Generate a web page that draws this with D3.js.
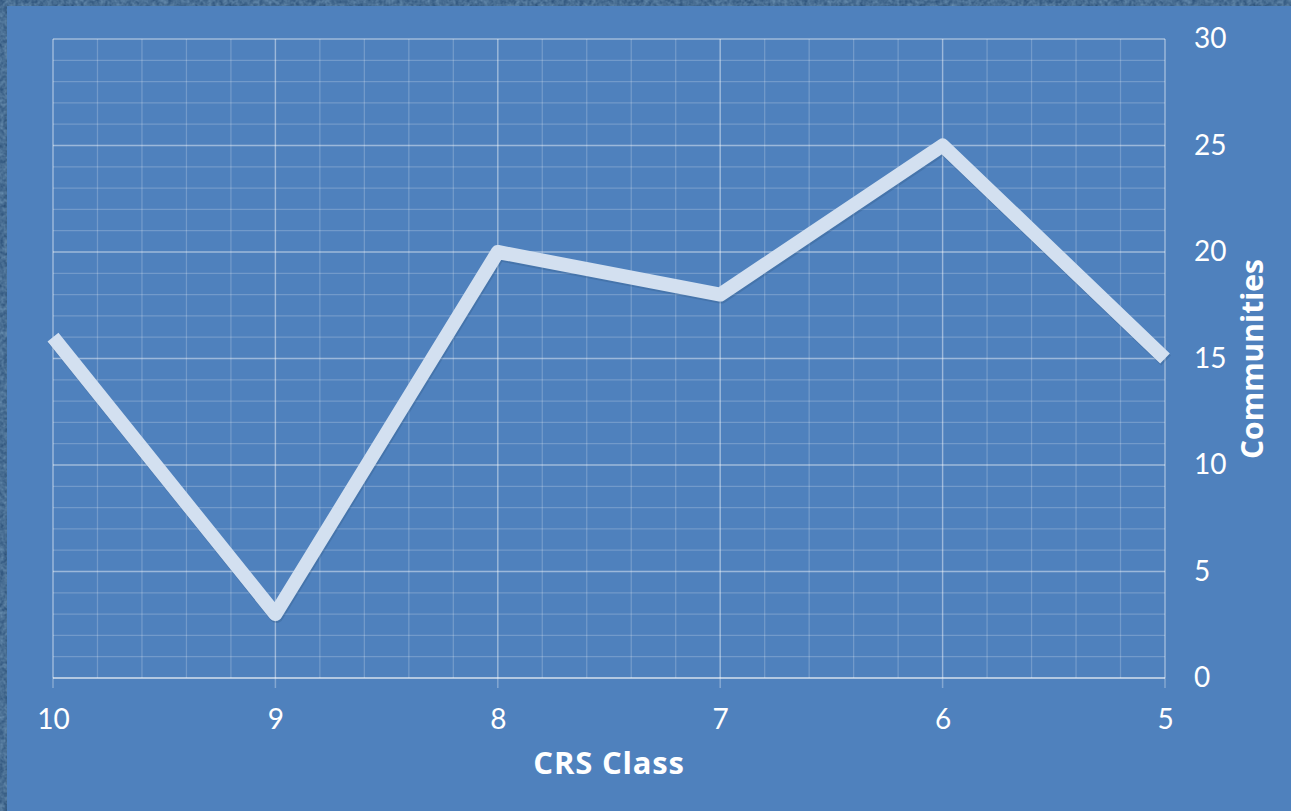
<!DOCTYPE html>
<html><head><meta charset="utf-8">
<script src="https://cdn.jsdelivr.net/npm/d3@7"></script>
<style>
html,body{margin:0;padding:0;background:#2f5680;}
svg{display:block;}
</style></head>
<body>
<svg id="c" width="1291" height="811"></svg>
<script>
const categories = ["10","9","8","7","6","5"];
const values = [16, 3, 20, 18, 25, 15];
const yTicks = [0,5,10,15,20,25,30];

const W = 1291, H = 811;
const svg = d3.select("#c");
const m = {left:53, right:1165, top:39, bottom:678};

// textured border
const defs = svg.append("defs");
const f = defs.append("filter").attr("id","tex");
f.append("feTurbulence").attr("type","fractalNoise").attr("baseFrequency","0.25").attr("numOctaves",3).attr("seed",4);
f.append("feColorMatrix").attr("values","0 0 0 0 0.18  0 0 0 0 0.33  0 0 0 0 0.5  0 0 0 1.2 -0.1");
svg.append("rect").attr("width",W).attr("height",H).attr("fill","#2b5078");
svg.append("rect").attr("width",W).attr("height",H).attr("filter","url(#tex)").attr("opacity",0.8);
svg.append("rect").attr("x",7).attr("y",6).attr("width",W-7).attr("height",H-6).attr("fill","#4f81bd");

const x = d3.scalePoint().domain(categories).range([m.left, m.right]);
const y = d3.scaleLinear().domain([0,30]).range([m.bottom, m.top]);

const g = svg.append("g");
// minor grid
const step = (m.right - m.left) / (categories.length - 1) / 5;
const minorX = d3.range(0, (categories.length-1)*5 + 1).map(i => m.left + i*step);
g.selectAll(".mx").data(minorX).join("line")
  .attr("x1",d=>d).attr("x2",d=>d).attr("y1",m.top).attr("y2",m.bottom)
  .attr("stroke","#ffffff").attr("stroke-opacity",0.2).attr("stroke-width",1.3);
g.selectAll(".my").data(d3.range(0,31)).join("line")
  .attr("x1",m.left).attr("x2",m.right).attr("y1",d=>y(d)).attr("y2",d=>y(d))
  .attr("stroke","#ffffff").attr("stroke-opacity",0.2).attr("stroke-width",1.3);
// major grid
g.selectAll(".Mx").data(categories).join("line")
  .attr("x1",d=>x(d)).attr("x2",d=>x(d)).attr("y1",m.top).attr("y2",m.bottom+10)
  .attr("stroke","#ffffff").attr("stroke-opacity",0.3).attr("stroke-width",1.5);
g.selectAll(".My").data(yTicks).join("line")
  .attr("x1",m.left).attr("x2",m.right).attr("y1",d=>y(d)).attr("y2",d=>y(d))
  .attr("stroke","#ffffff").attr("stroke-opacity",0.3).attr("stroke-width",1.5);
g.append("line").attr("x1",m.left).attr("x2",m.right).attr("y1",m.bottom).attr("y2",m.bottom)
  .attr("stroke","#ffffff").attr("stroke-opacity",0.35).attr("stroke-width",2);

// axes labels via d3 axes
const font = "Lato, 'Open Sans', sans-serif";
const xAxis = svg.append("g").attr("transform",`translate(0,${m.bottom})`)
  .call(d3.axisBottom(x).tickSize(0).tickPadding(51));
xAxis.select(".domain").remove();
xAxis.selectAll("text").attr("fill","#ffffff").attr("font-size",28).attr("font-family",font).attr("dy","0");

const yAxis = svg.append("g").attr("transform",`translate(${m.right},0)`)
  .call(d3.axisRight(y).tickValues(yTicks).tickSize(0).tickPadding(29));
yAxis.select(".domain").remove();
yAxis.selectAll("text").attr("fill","#ffffff").attr("font-size",28).attr("font-family",font);

// line
const line = d3.line().x((d,i)=>x(categories[i])).y(d=>y(d));
svg.append("path").datum(values).attr("d",line)
  .attr("fill","none").attr("stroke","#1f3f66").attr("stroke-opacity",0.2)
  .attr("stroke-width",14).attr("stroke-linejoin","round").attr("transform","translate(1,2)");
svg.append("path").datum(values).attr("d",line)
  .attr("fill","none").attr("stroke","#d3e0f0").attr("stroke-width",14)
  .attr("stroke-linejoin","round").attr("stroke-linecap","butt");

// titles
const tfont = "'Open Sans', Lato, sans-serif";
svg.append("text").attr("x",609).attr("y",774).attr("text-anchor","middle")
  .attr("fill","#ffffff").attr("font-size",31).attr("font-weight","bold").attr("font-family",tfont)
  .attr("letter-spacing","0.8")
  .text("CRS Class");
svg.append("text").attr("transform","translate(1263,359) rotate(-90)").attr("text-anchor","middle")
  .attr("fill","#ffffff").attr("font-size",30).attr("font-weight","bold").attr("font-family",tfont)
  .text("Communities");
</script>
</body></html>
